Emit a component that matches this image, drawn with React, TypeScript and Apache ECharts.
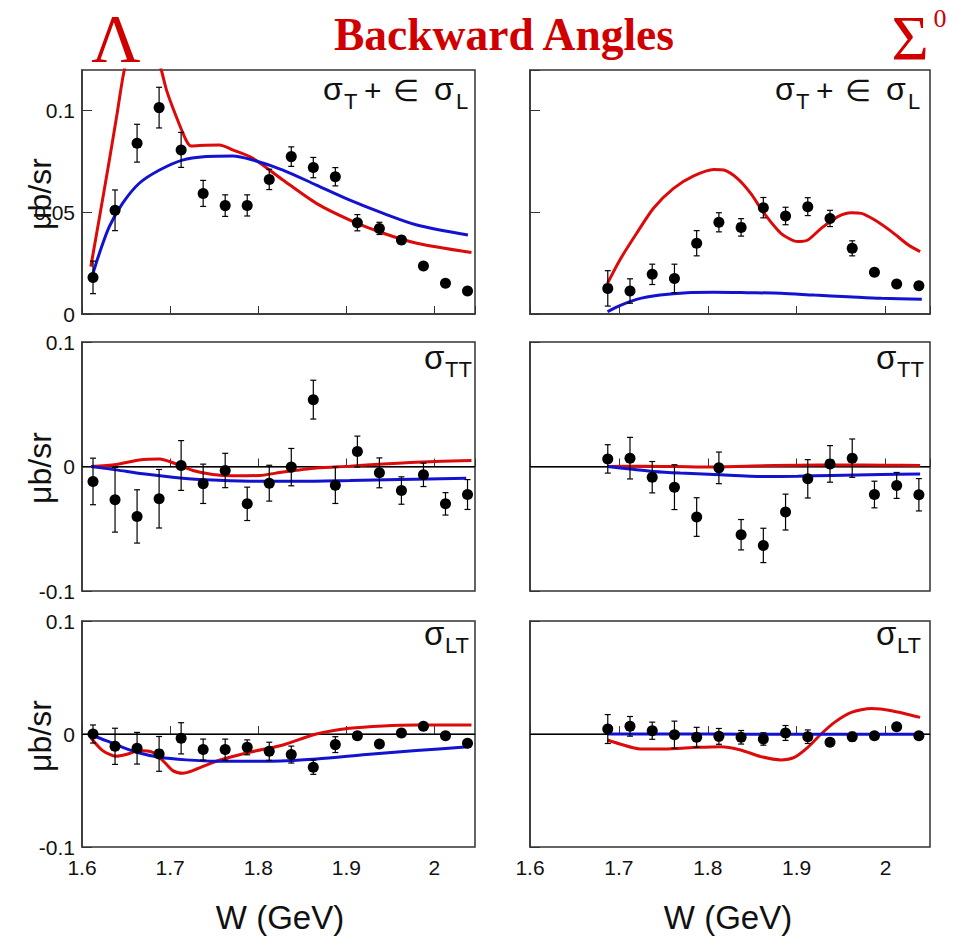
import React, { useEffect, useRef } from 'react';
import * as echarts from 'echarts';

// ---------- data ----------
const W_LAMBDA = [1.6125, 1.6375, 1.6625, 1.6875, 1.7125, 1.7375, 1.7625, 1.7875, 1.8125, 1.8375, 1.8625, 1.8875, 1.9125, 1.9375, 1.9625, 1.9875, 2.0125, 2.0375];
const W_SIGMA = [1.6875, 1.7125, 1.7375, 1.7625, 1.7875, 1.8125, 1.8375, 1.8625, 1.8875, 1.9125, 1.9375, 1.9625, 1.9875, 2.0125, 2.0375];

// Lambda, sigma_T + eps sigma_L
const L_TL = [0.018, 0.051, 0.084, 0.1015, 0.0807, 0.0593, 0.0533, 0.0534, 0.0662, 0.0774, 0.072, 0.0675, 0.0449, 0.0421, 0.0364, 0.0236, 0.0151, 0.0113];
const L_TL_ERR = [0.008, 0.01, 0.0093, 0.01, 0.0086, 0.0064, 0.0053, 0.0052, 0.005, 0.0048, 0.005, 0.0045, 0.004, 0.003, 0.002, 0.0015, 0.0012, 0.0012];
const L_TL_RED_W = [1.61, 1.62, 1.63, 1.64, 1.648, 1.66, 1.672, 1.684, 1.69, 1.696, 1.707, 1.718, 1.724, 1.74, 1.756, 1.771, 1.794, 1.828, 1.866, 1.904, 1.942, 1.98, 2.042];
const L_TL_RED = [0.0233, 0.048, 0.073, 0.099, 0.12, 0.138, 0.14, 0.128, 0.12, 0.11, 0.097, 0.0856, 0.0826, 0.083, 0.0831, 0.0807, 0.0766, 0.0659, 0.0544, 0.0462, 0.0397, 0.0348, 0.0302];
const L_TL_BLUE_W = [1.6102, 1.6197, 1.631, 1.646, 1.665, 1.688, 1.714, 1.741, 1.771, 1.794, 1.828, 1.866, 1.904, 1.942, 1.98, 2.038];
const L_TL_BLUE = [0.0167, 0.0298, 0.043, 0.0544, 0.0643, 0.0708, 0.0757, 0.0774, 0.0777, 0.0757, 0.0708, 0.0634, 0.056, 0.0495, 0.0438, 0.0389];

// Sigma0, sigma_T + eps sigma_L
const S_TL = [0.0126, 0.0113, 0.0195, 0.0175, 0.0348, 0.0451, 0.0426, 0.0523, 0.0482, 0.0528, 0.047, 0.0323, 0.0205, 0.0148, 0.0139];
const S_TL_ERR = [0.0087, 0.006, 0.005, 0.007, 0.0062, 0.0047, 0.0043, 0.005, 0.0043, 0.0044, 0.004, 0.0037, 0.0015, 0.0012, 0.0012];
const S_TL_RED_W = [1.6872, 1.7011, 1.72, 1.7389, 1.7615, 1.7842, 1.8068, 1.8181, 1.8332, 1.8483, 1.8634, 1.8823, 1.9011, 1.9125, 1.9275, 1.9464, 1.9615, 1.9728, 1.9879, 2.0068, 2.0257, 2.0389];
const S_TL_RED = [0.0151, 0.0266, 0.0397, 0.052, 0.0618, 0.0679, 0.0711, 0.0708, 0.0667, 0.0593, 0.0495, 0.0397, 0.0356, 0.0364, 0.0421, 0.0479, 0.0498, 0.0495, 0.0462, 0.0405, 0.0339, 0.0307];
const S_TL_BLUE_W = [1.6872, 1.7011, 1.72, 1.7464, 1.7766, 1.8068, 1.8445, 1.8823, 1.92, 1.9577, 1.9955, 2.0408];
const S_TL_BLUE = [0.0011, 0.0041, 0.0072, 0.0093, 0.0105, 0.0107, 0.0105, 0.0102, 0.0093, 0.0085, 0.0077, 0.0072];

// Lambda, sigma_TT
const L_TT = [-0.012, -0.0267, -0.0401, -0.0259, 0.0008, -0.0139, -0.0032, -0.03, -0.0134, -0.0005, 0.0537, -0.015, 0.012, -0.0051, -0.0193, -0.0067, -0.03, -0.0225];
const L_TT_ERR = [0.0187, 0.026, 0.0214, 0.0235, 0.02, 0.0158, 0.0138, 0.0134, 0.0144, 0.015, 0.0156, 0.0147, 0.0124, 0.012, 0.011, 0.0094, 0.009, 0.012];
const L_TT_RED_W = [1.6102, 1.6386, 1.6652, 1.6879, 1.7068, 1.7258, 1.7485, 1.7712, 1.8015, 1.828, 1.8659, 1.9038, 1.9417, 1.9795, 2.042];
const L_TT_RED = [0, 0.0016, 0.0053, 0.0061, 0.0021, -0.0032, -0.0064, -0.0075, -0.0072, -0.0045, -0.0013, 0.0003, 0.0021, 0.0035, 0.0048];
const L_TT_BLUE_W = [1.6102, 1.6386, 1.669, 1.703, 1.741, 1.79, 1.847, 1.904, 1.961, 2.036];
const L_TT_BLUE = [0, -0.0027, -0.0059, -0.0086, -0.0107, -0.0118, -0.0118, -0.0112, -0.0104, -0.0094];

// Sigma0, sigma_TT
const S_TT = [0.0061, 0.0067, -0.0086, -0.0166, -0.0406, -0.0011, -0.0548, -0.0634, -0.0366, -0.0099, 0.0021, 0.0067, -0.0225, -0.0152, -0.0227];
const S_TT_ERR = [0.0114, 0.0167, 0.0126, 0.018, 0.0155, 0.0127, 0.0122, 0.0138, 0.0144, 0.0154, 0.0147, 0.0154, 0.0107, 0.0104, 0.013];
const S_TT_RED_W = [1.6872, 1.73, 1.8, 1.85, 1.9, 1.95, 2.0, 2.0389];
const S_TT_RED = [0, 0.0003, -0.0005, 0.0005, 0.001, 0.0012, 0.0011, 0.0008];
const S_TT_BLUE_W = [1.6872, 1.7125, 1.7389, 1.7691, 1.8068, 1.8634, 1.9011, 1.9389, 1.9955, 2.0389];
const S_TT_BLUE = [0, -0.002, -0.004, -0.0053, -0.0064, -0.008, -0.0078, -0.0072, -0.0064, -0.0061];

// Lambda, sigma_LT
const L_LT = [0, -0.0109, -0.0126, -0.0176, -0.0038, -0.0138, -0.0138, -0.0118, -0.0153, -0.0182, -0.0294, -0.0094, -0.0015, -0.0088, 0.0009, 0.0068, -0.0015, -0.0082];
const L_LT_ERR = [0.008, 0.016, 0.014, 0.0154, 0.0138, 0.0093, 0.0093, 0.0066, 0.008, 0.0075, 0.0063, 0.007, 0.003, 0.002, 0.002, 0.002, 0.0015, 0.0015];
const L_LT_RED_W = [1.6102, 1.6235, 1.6386, 1.65, 1.6652, 1.6803, 1.6917, 1.703, 1.7144, 1.7258, 1.7523, 1.7902, 1.828, 1.8659, 1.9038, 1.9417, 1.9795, 2.042];
const L_LT_RED = [-0.0035, -0.0147, -0.0197, -0.0182, -0.0147, -0.0162, -0.0235, -0.0324, -0.0347, -0.0324, -0.0241, -0.0162, -0.0097, 0, 0.005, 0.0071, 0.0079, 0.0079];
const L_LT_BLUE_W = [1.6102, 1.6273, 1.6462, 1.6652, 1.6879, 1.7182, 1.7523, 1.8091, 1.8659, 1.9227, 1.9795, 2.0383];
const L_LT_BLUE = [-0.0009, -0.0059, -0.0118, -0.0168, -0.0206, -0.0229, -0.0241, -0.0241, -0.0221, -0.0182, -0.0147, -0.0112];

// Sigma0, sigma_LT
const S_LT = [0.0044, 0.0068, 0.0029, -0.0006, -0.0029, -0.0021, -0.0029, -0.0044, 0.0009, -0.0024, -0.0074, -0.0024, -0.0015, 0.0065, -0.0015];
const S_LT_ERR = [0.0128, 0.0087, 0.0076, 0.012, 0.0088, 0.007, 0.006, 0.0055, 0.0066, 0.006, 0.003, 0.004, 0.002, 0.0015, 0.0015];
const S_LT_RED_W = [1.6872, 1.7011, 1.7238, 1.7502, 1.7879, 1.8143, 1.837, 1.8596, 1.8823, 1.8974, 1.9125, 1.9275, 1.9426, 1.9615, 1.9842, 2.0068, 2.0389];
const S_LT_RED = [-0.0053, -0.0088, -0.0132, -0.0132, -0.0118, -0.0112, -0.0141, -0.02, -0.0229, -0.0206, -0.0118, 0, 0.0103, 0.0191, 0.0226, 0.0206, 0.0147];
const S_LT_BLUE_W = [1.6872, 1.8, 1.9, 2.0408];
const S_LT_BLUE = [0, 0, -0.0003, -0.0003];

const X_TICK_LABELS = ['1.6', '1.7', '1.8', '1.9', '2'];

// ---------- styling ----------
const SANS = "'Liberation Sans', Arial, Helvetica, sans-serif";
const SERIF = "'Liberation Serif', 'Times New Roman', serif";
const RED = '#dd0a0a';
const BLUE = '#1212d0';
const TITLE_RED = '#d00000';
const INK = '#111';

const GRIDS = [
  { left: 82, top: 70, width: 393, height: 244 },
  { left: 530, top: 70, width: 400, height: 244 },
  { left: 82, top: 342, width: 393, height: 249 },
  { left: 530, top: 342, width: 400, height: 249 },
  { left: 82, top: 621, width: 393, height: 226 },
  { left: 530, top: 621, width: 400, height: 226 },
];

const PANELS = [
  { w: W_LAMBDA, y: L_TL, e: L_TL_ERR, rw: L_TL_RED_W, r: L_TL_RED, bw: L_TL_BLUE_W, b: L_TL_BLUE },
  { w: W_SIGMA, y: S_TL, e: S_TL_ERR, rw: S_TL_RED_W, r: S_TL_RED, bw: S_TL_BLUE_W, b: S_TL_BLUE },
  { w: W_LAMBDA, y: L_TT, e: L_TT_ERR, rw: L_TT_RED_W, r: L_TT_RED, bw: L_TT_BLUE_W, b: L_TT_BLUE },
  { w: W_SIGMA, y: S_TT, e: S_TT_ERR, rw: S_TT_RED_W, r: S_TT_RED, bw: S_TT_BLUE_W, b: S_TT_BLUE },
  { w: W_LAMBDA, y: L_LT, e: L_LT_ERR, rw: L_LT_RED_W, r: L_LT_RED, bw: L_LT_BLUE_W, b: L_LT_BLUE },
  { w: W_SIGMA, y: S_LT, e: S_LT_ERR, rw: S_LT_RED_W, r: S_LT_RED, bw: S_LT_BLUE_W, b: S_LT_BLUE },
];

const zip = (a: number[], b: number[]) => a.map((v, i) => [v, b[i]]);

const fmtY = (v: number) => (Math.abs(v) < 1e-9 ? '0' : String(+v.toFixed(3)));
const fmtX = (v: number) => {
  const k = Math.round((v - 1.6) * 10);
  return Math.abs(v - (1.6 + k / 10)) < 1e-6 && X_TICK_LABELS[k] ? X_TICK_LABELS[k] : '';
};

function text(x: number, y: number, t: string, size: number, extra: any = {}) {
  return {
    type: 'text',
    x,
    y,
    z: 20,
    silent: true,
    rotation: extra.rotation || 0,
    style: {
      text: t,
      fontSize: size,
      fontFamily: extra.fontFamily || SANS,
      fontWeight: extra.fontWeight || 'normal',
      fill: extra.fill || INK,
      textAlign: extra.align || 'left',
      verticalAlign: 'middle',
    },
  };
}

function buildOption() {
  const xAxis: any[] = [];
  const yAxis: any[] = [];
  const series: any[] = [];

  GRIDS.forEach((_, i) => {
    const r = Math.floor(i / 2);
    const leftCol = i % 2 === 0;
    xAxis.push({
      gridIndex: i,
      type: 'value',
      min: 1.6,
      max: leftCol ? 2.046 : 2.05,
      interval: 0.1,
      axisLine: { show: true, lineStyle: { color: '#333', width: 1.5 } },
      axisTick: { show: true, inside: true, length: 8, lineStyle: { color: '#333', width: 1 } },
      axisLabel: {
        show: r === 2,
        showMaxLabel: false,
        formatter: fmtX,
        fontSize: 21,
        fontFamily: SANS,
        color: INK,
        margin: 10,
      },
      splitLine: { show: false },
    });
    yAxis.push({
      gridIndex: i,
      type: 'value',
      min: r === 0 ? 0 : -0.1,
      max: r === 0 ? 0.12 : 0.1,
      interval: r === 0 ? 0.05 : 0.1,
      axisLine: { show: true, lineStyle: { color: '#333', width: 1.5 } },
      axisTick: { show: true, inside: true, length: 10, lineStyle: { color: '#333', width: 1 } },
      axisLabel: {
        show: leftCol,
        showMaxLabel: r !== 0,
        formatter: fmtY,
        fontSize: 21,
        fontFamily: SANS,
        color: INK,
        margin: 7,
      },
      splitLine: { show: false },
    });

    const p = PANELS[i];
    series.push({
      type: 'line',
      xAxisIndex: i,
      yAxisIndex: i,
      data: zip(p.rw, p.r),
      showSymbol: false,
      smooth: 0.25,
      clip: true,
      lineStyle: { color: RED, width: 3 },
      z: 2,
      silent: true,
    });
    series.push({
      type: 'line',
      xAxisIndex: i,
      yAxisIndex: i,
      data: zip(p.bw, p.b),
      showSymbol: false,
      smooth: 0.3,
      clip: true,
      lineStyle: { color: BLUE, width: 3 },
      z: 2,
      silent: true,
    });
    series.push({
      type: 'custom',
      xAxisIndex: i,
      yAxisIndex: i,
      silent: true,
      z: 3,
      encode: { x: 0, y: [1, 2] },
      data: p.w.map((w, k) => [w, p.y[k] - p.e[k], p.y[k] + p.e[k]]),
      renderItem: (_params: any, api: any) => {
        const lo = api.coord([api.value(0), api.value(1)]);
        const hi = api.coord([api.value(0), api.value(2)]);
        const cap = 3;
        const st = { stroke: '#000', lineWidth: 1.2 };
        return {
          type: 'group',
          children: [
            { type: 'line', shape: { x1: lo[0], y1: lo[1], x2: hi[0], y2: hi[1] }, style: st },
            { type: 'line', shape: { x1: lo[0] - cap, y1: lo[1], x2: lo[0] + cap, y2: lo[1] }, style: st },
            { type: 'line', shape: { x1: hi[0] - cap, y1: hi[1], x2: hi[0] + cap, y2: hi[1] }, style: st },
          ],
        };
      },
    });
    const scatter: any = {
      type: 'scatter',
      xAxisIndex: i,
      yAxisIndex: i,
      data: zip(p.w, p.y),
      symbol: 'circle',
      symbolSize: 11,
      itemStyle: { color: '#000', opacity: 1 },
      z: 4,
      silent: true,
    };
    if (r > 0) {
      scatter.markLine = {
        silent: true,
        symbol: 'none',
        label: { show: false },
        lineStyle: { color: '#000', width: 1.2, type: 'solid' },
        data: [{ yAxis: 0 }],
        z: 1,
      };
    }
    series.push(scatter);
  });

  const graphics: any[] = [
    // header
    text(116, 38, 'Λ', 68, { fontFamily: SERIF, fill: TITLE_RED, align: 'center' }),
    text(504, 34, 'Backward Angles', 45.5, { fontFamily: SERIF, fontWeight: 'bold', fill: TITLE_RED, align: 'center' }),
    text(910, 38, 'Σ', 64, { fontFamily: SERIF, fill: TITLE_RED, align: 'center' }),
    text(940, 18, '0', 26, { fontFamily: SERIF, fill: TITLE_RED, align: 'center' }),
    // y-axis names
    text(40, 194, 'μb/sr', 32, { align: 'center', rotation: Math.PI / 2 }),
    text(40, 468, 'μb/sr', 32, { align: 'center', rotation: Math.PI / 2 }),
    text(40, 736, 'μb/sr', 32, { align: 'center', rotation: Math.PI / 2 }),
    // x-axis names
    text(280, 917, 'W (GeV)', 33, { align: 'center' }),
    text(728, 917, 'W (GeV)', 33, { align: 'center' }),
  ];

  // panel labels: sigma_T + eps sigma_L
  [0, 452].forEach((dx) => {
    graphics.push(text(323 + dx, 89, 'σ', 32));
    graphics.push(text(344 + dx, 101, 'T', 22));
    graphics.push(text(364 + dx, 90, '+', 30));
    graphics.push(text(393 + dx, 90, '∈', 30));
    graphics.push(text(434 + dx, 89, 'σ', 32));
    graphics.push(text(456 + dx, 101, 'L', 22));
  });
  // sigma_TT, sigma_LT
  [0, 452].forEach((dx) => {
    graphics.push(text(424 + dx, 357, 'σ', 33));
    graphics.push(text(445 + dx, 369, 'TT', 22));
    graphics.push(text(424 + dx, 633, 'σ', 33));
    graphics.push(text(445 + dx, 645, 'LT', 22));
  });

  return {
    animation: false,
    backgroundColor: '#fff',
    grid: GRIDS.map((g) => ({ ...g, show: true, borderColor: '#333', borderWidth: 1.5, backgroundColor: 'transparent', containLabel: false })),
    xAxis,
    yAxis,
    series,
    graphic: graphics,
  };
}

export default function App() {
  const ref = useRef<HTMLDivElement>(null);
  useEffect(() => {
    if (!ref.current) return;
    const chart = echarts.init(ref.current, null, { renderer: 'svg' });
    chart.setOption(buildOption() as any);
    return () => chart.dispose();
  }, []);
  return (
    <div
      ref={ref}
      style={{ position: 'absolute', left: 0, top: 0, width: 960, height: 937, background: '#fff' }}
    />
  );
}
